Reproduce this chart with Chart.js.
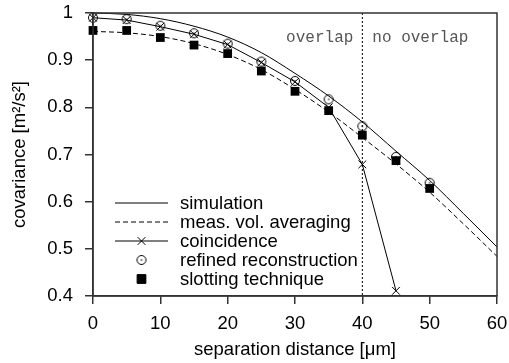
<!DOCTYPE html>
<html><head><meta charset="utf-8">
<script src="https://cdn.jsdelivr.net/npm/chart.js@4/dist/chart.umd.min.js"></script>
<style>html,body{margin:0;padding:0;background:#fff;overflow:hidden}canvas{display:block}</style>
</head><body>
<canvas id="c" width="509" height="363"></canvas>
<script>
// ---- data ----
const curveX = [0, 5, 10, 15, 20, 25, 30, 35, 40, 45, 50, 55, 60];
const simulation = [1.000, 0.997, 0.988, 0.972, 0.949, 0.916, 0.872, 0.824, 0.769, 0.707, 0.645, 0.575, 0.504];
const measVolAveraging = [0.961, 0.958, 0.950, 0.935, 0.912, 0.880, 0.838, 0.790, 0.736, 0.680, 0.620, 0.553, 0.484];
const pointX = [0, 5, 10, 15, 20, 25, 30, 35, 40, 45, 50];
const coincidence = [0.990, 0.985, 0.971, 0.955, 0.933, 0.895, 0.854, 0.800, 0.679, 0.411];
const refinedReconstruction = [0.990, 0.987, 0.973, 0.957, 0.935, 0.897, 0.856, 0.817, 0.760, 0.695, 0.640];
const slottingTechnique = [0.963, 0.963, 0.948, 0.932, 0.914, 0.877, 0.834, 0.793, 0.741, 0.687, 0.628];
const seriesLabels = ['simulation', 'meas. vol. averaging', 'coincidence', 'refined reconstruction', 'slotting technique'];
const xTicks = [0, 10, 20, 30, 40, 50, 60];
const xTickLabels = ['0', '10', '20', '30', '40', '50', '60'];
const yTicks = [0.4, 0.5, 0.6, 0.7, 0.8, 0.9, 1.0];
const yTickLabels = ['0.4', '0.5', '0.6', '0.7', '0.8', '0.9', '1'];
const overlapLimit = 40;
const regionLabels = ['overlap', 'no overlap'];
const xTitle = 'separation distance [\u03bcm]';
const yTitle = 'covariance [m\u00b2/s\u00b2]';

// ---- styles ----
const SANS = '"Liberation Sans", Arial, Helvetica, sans-serif';
const AXIS = '#333';
const pts = (xs, ys) => ys.map((y, i) => ({ x: xs[i], y }));
const lookup = (ticks, labels) => v => { const i = ticks.findIndex(t => Math.abs(t - v) < 1e-9); return i >= 0 ? labels[i] : ''; };

// circle with centre dot marker
const dotCircle = document.createElement('canvas');
dotCircle.width = 12; dotCircle.height = 12;
(function () {
  const g = dotCircle.getContext('2d');
  g.strokeStyle = '#000'; g.lineWidth = 1;
  g.beginPath(); g.arc(6, 6, 4.5, 0, Math.PI * 2); g.stroke();
  g.fillStyle = '#000'; g.beginPath(); g.arc(6, 6, 0.8, 0, Math.PI * 2); g.fill();
})();

const frame = {
  id: 'frame',
  beforeDatasetsDraw(chart) {
    const { ctx, chartArea: a, scales: { x } } = chart;
    ctx.save();
    const px = x.getPixelForValue(overlapLimit);
    ctx.strokeStyle = '#000'; ctx.lineWidth = 1; ctx.setLineDash([2, 2]);
    ctx.beginPath(); ctx.moveTo(px, a.top); ctx.lineTo(px, a.bottom); ctx.stroke();
    ctx.restore();
  },
  afterDraw(chart) {
    const { ctx, chartArea: a, scales: { x } } = chart;
    ctx.save();
    ctx.strokeStyle = AXIS; ctx.lineWidth = 1.5;
    ctx.strokeRect(a.left, a.top, a.right - a.left, a.bottom - a.top);
    // region labels
    const px = x.getPixelForValue(overlapLimit);
    ctx.font = '16px "Liberation Mono", "Courier New", monospace';
    ctx.fillStyle = '#555'; ctx.textBaseline = 'alphabetic';
    ctx.textAlign = 'right'; ctx.fillText(regionLabels[0], px - 9, a.top + 29);
    ctx.textAlign = 'left'; ctx.fillText(regionLabels[1], px + 10, a.top + 29);
    // legend
    ctx.font = '18.5px ' + SANS;
    ctx.textAlign = 'left'; ctx.textBaseline = 'middle';
    chart.data.datasets.forEach((ds, i) => {
      const y = 203 + i * 19;
      if (ds.showLine !== false) {
        ctx.beginPath(); ctx.setLineDash(ds.borderDash || []);
        ctx.lineWidth = ds.borderWidth; ctx.strokeStyle = ds.borderColor;
        ctx.moveTo(115, y); ctx.lineTo(168, y); ctx.stroke(); ctx.setLineDash([]);
      }
      if (ds.pointRadius > 0) {
        ctx.fillStyle = ds.pointBackgroundColor || '#000';
        ctx.strokeStyle = ds.pointBorderColor || '#000';
        ctx.lineWidth = ds.pointBorderWidth || 1;
        Chart.helpers.drawPoint(ctx, { pointStyle: ds.pointStyle, radius: ds.pointRadius, borderWidth: ds.pointBorderWidth || 1, rotation: 0 }, 141.5, y);
      }
      ctx.fillStyle = '#000';
      ctx.fillText(ds.label, 180, y + 1);
    });
    ctx.restore();
  }
};

new Chart(document.getElementById('c'), {
  type: 'scatter',
  data: {
    datasets: [
      { label: seriesLabels[0], data: pts(curveX, simulation), showLine: true, borderColor: '#000', borderWidth: 1, pointRadius: 0, cubicInterpolationMode: 'monotone', clip: false },
      { label: seriesLabels[1], data: pts(curveX, measVolAveraging), showLine: true, borderColor: '#000', borderWidth: 1, borderDash: [5, 3], pointRadius: 0, cubicInterpolationMode: 'monotone', clip: false },
      { label: seriesLabels[2], data: pts(pointX, coincidence), showLine: true, borderColor: '#000', borderWidth: 1, pointStyle: 'crossRot', pointRadius: 5.5, pointBorderWidth: 1, pointBorderColor: '#000', pointBackgroundColor: '#000', tension: 0, clip: false },
      { label: seriesLabels[3], data: pts(pointX, refinedReconstruction), showLine: false, pointStyle: dotCircle, pointRadius: 5, pointBorderWidth: 1, pointBorderColor: '#000', pointBackgroundColor: 'rgba(0,0,0,0)', clip: false },
      { label: seriesLabels[4], data: pts(pointX, slottingTechnique), showLine: false, pointStyle: 'rect', pointRadius: 6.2, pointBorderWidth: 0, pointBorderColor: '#000', pointBackgroundColor: '#000', clip: false }
    ]
  },
  options: {
    responsive: false, animation: false, devicePixelRatio: 1,
    layout: { padding: { top: 13, right: 12, left: 0, bottom: 0 } },
    plugins: { legend: { display: false }, tooltip: { enabled: false } },
    elements: { point: { hoverRadius: 0 } },
    scales: {
      x: {
        type: 'linear', min: 0, max: 60,
        afterBuildTicks: s => { s.ticks = xTicks.map(v => ({ value: v })); },
        afterFit: s => { s.height = 67; s.paddingLeft = 0; s.paddingRight = 0; },
        grid: { drawOnChartArea: false, drawTicks: true, tickLength: 8, color: AXIS, lineWidth: 1.5 },
        border: { display: true, color: AXIS, width: 1.5 },
        ticks: { color: '#000', font: { family: SANS, size: 18.5 }, padding: 9, maxRotation: 0, callback: lookup(xTicks, xTickLabels) },
        title: { display: true, text: xTitle, color: '#000', font: { family: SANS, size: 18.5 }, padding: { top: 0, bottom: 2 } }
      },
      y: {
        type: 'linear', min: 0.4, max: 1.0,
        afterBuildTicks: s => { s.ticks = yTicks.map(v => ({ value: v })); },
        afterFit: s => { s.width = 93; s.paddingTop = 0; s.paddingBottom = 0; },
        grid: { drawOnChartArea: false, drawTicks: true, tickLength: 8, color: AXIS, lineWidth: 1.5 },
        border: { display: true, color: AXIS, width: 1.5 },
        ticks: { color: '#000', font: { family: SANS, size: 18.5 }, padding: 12, callback: lookup(yTicks, yTickLabels) },
        title: { display: true, text: yTitle, color: '#000', font: { family: SANS, size: 18.5 }, padding: { top: 9, bottom: 0 } }
      }
    }
  },
  plugins: [frame]
});
</script>
</body></html>
